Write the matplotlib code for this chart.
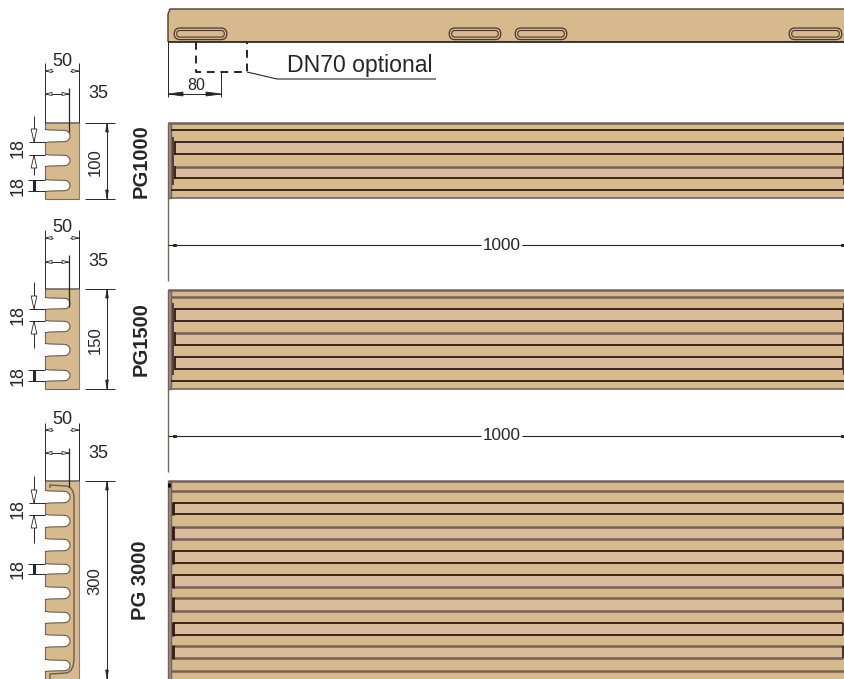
import matplotlib
matplotlib.use('Agg')
import matplotlib.pyplot as plt
from matplotlib.patches import Rectangle, PathPatch, Polygon
from matplotlib.path import Path

TAN = '#d7b98e'
TAN2 = '#dabb9b'
DARK = '#2e1a18'
TAUPE = '#75605a'
GREY = '#6e6a66'
INK = '#262626'

# top strip
strip_slots = [(174, 227), (449, 501), (515, 567), (789, 842)]

# plan views: outer edges, lines, slot rows, edge shades (d dark, t taupe)
plan1_y = (123, 198)
plan1_lines = [130, 190]
plan1_outer = 'dd'
plan1_slots = [(142, 154), (167, 178)]
plan1_shades = ['dd', 'td']
plan2_y = (290, 389)
plan2_lines = [297, 381]
plan2_outer = 'td'
plan2_slots = [(309, 321), (333, 345), (357, 369)]
plan2_shades = ['dd', 'td', 'dd']
plan3_y = (481, 680)
plan3_lines = [491, 671]
plan3_outer = 'tt'
plan3_slots = [(503, 514), (527, 539), (551, 563), (575, 587), (598, 611), (623, 635), (646, 658)]
plan3_shades = ['dd', 'tt', 'dd', 'dt', 'tt', 'dd', 'tt']

# section views
sec1_y = (123, 199)
sec1_slots = [(130, 142), (155, 166), (180, 191)]
sec2_y = (289, 389)
sec2_slots = [(298, 309), (321, 332), (344, 356), (370, 381)]
sec3_y = (481, 680)
sec3_slots = [(491, 503), (515, 527), (539, 551), (564, 574), (587, 599), (612, 623), (635, 647), (660, 671)]

SHADE = {'d': (DARK, 1.3), 't': (TAUPE, 1.8)}


def line(ax, x, y, c=INK, lw=0.8, **kw):
    ax.plot(x, y, color=c, lw=lw, solid_capstyle='butt', **kw)


def arrow(ax, x, y, dx, dy, filled=False, w=0.22):
    # narrow dimension arrow, tip at x,y
    n = (-dy * w, dx * w)
    pts = [(x, y), (x + dx + n[0], y + dy + n[1]), (x + dx - n[0], y + dy - n[1])]
    ax.add_patch(Polygon(pts, closed=True, fc=INK if filled else 'white', ec=INK, lw=0.6, zorder=5))


def plan(ax, ys, lines, outer, slots, shades, slot_x, vline=None):
    y0, y1 = ys
    ax.add_patch(Rectangle((168, y0), 680, y1 - y0, fc=TAN, ec='none'))
    line(ax, [168, 845], [y0, y0], TAUPE, 1.8)
    line(ax, [168, 845], [y1, y1], GREY, 1.2)
    ax.add_patch(Rectangle((168, y0), 3, y1 - y0, fc='#a09082', ec=TAUPE, lw=1.0))
    for yl, s in zip(lines, outer):
        c, lw = SHADE[s]
        line(ax, [171, 845], [yl, yl], c, lw)
    end_lw = 1.3 if vline else 2.0
    for (a, b), sh in zip(slots, shades):
        ax.add_patch(Rectangle((slot_x, a), 843 - slot_x, b - a, fc=TAN2, ec='none'))
        for yl, s in zip((a, b), sh):
            c, lw = SHADE[s]
            line(ax, [slot_x, 843], [yl, yl], c, lw)
        line(ax, [slot_x, slot_x], [a - 1, b + 1], DARK, end_lw)
        line(ax, [843.5, 843.5], [a, b], DARK, 1.2)
    if vline:
        line(ax, [173, 173], vline, '#4a3630', 1.3)
        line(ax, [844.5, 844.5], vline, '#4a3630', 1.3)


def section(ax, ys, slots):
    y0, y1 = ys
    ax.add_patch(Rectangle((45, y0), 34, min(y1, 679) - y0, fc=TAN, ec='none'))
    line(ax, [45, 79], [y0, y0], GREY, 1.2)
    line(ax, [79, 79], [y0, y1], '#8a8078', 0.8)
    line(ax, [45, 45], [y0, y1], TAUPE, 0.8)
    if y1 < 679:
        line(ax, [45, 79], [y1, y1], GREY, 0.8)
    for a, b in slots:
        m = (a + b) / 2
        r = (b - a) / 2
        k = 0.55 * r
        verts = [(45, a - 0.5), (50, a), (70 - r, a + 0.3),
                 (70 - r + k, a + 0.3), (70, m - k), (70, m),
                 (70, m + k), (70 - r + k, b - 0.3), (70 - r, b - 0.3),
                 (50, b), (45, b + 0.5)]
        codes = [Path.MOVETO, Path.LINETO, Path.LINETO,
                 Path.CURVE4, Path.CURVE4, Path.CURVE4,
                 Path.CURVE4, Path.CURVE4, Path.CURVE4,
                 Path.LINETO, Path.LINETO]
        ax.add_patch(PathPatch(Path(verts, codes), fc='white', ec='#5c4a42', lw=0.7, zorder=3))


def top_dims(ax, y0, y50, y35, ext_top, ext35):
    line(ax, [45, 45], [ext_top, y0], INK, 0.7)
    line(ax, [79, 79], [ext_top, y0], INK, 0.7)
    line(ax, [45, 53], [y50, y50], INK, 0.7)
    line(ax, [70, 79], [y50, y50], INK, 0.7)
    arrow(ax, 45, y50, 7, 0)
    arrow(ax, 79, y50, -7, 0)
    line(ax, [45, 69], [y35, y35], INK, 0.7)
    arrow(ax, 45, y35, 7, 0)
    arrow(ax, 69, y35, -7, 0)
    line(ax, [69, 69], ext35, INK, 0.9, zorder=6)
    ax.text(62, y50 - 10, '50', ha='center', va='center', fontsize=13, color=INK)
    ax.text(98, y35, '35', ha='center', va='center', fontsize=13, color=INK)


def left_dims(ax, s1, s2, top, bottom):
    # open-arrow 18 between two slots, filled-arrow 18 across a slot
    a, b = s1
    line(ax, [29, 45], [a, a], INK, 0.7, zorder=6)
    line(ax, [29, 45], [b, b], INK, 0.7, zorder=6)
    line(ax, [34, 34], [top, a], INK, 0.7)
    line(ax, [34, 34], [b, bottom], INK, 0.7)
    arrow(ax, 34, a, 0, -13)
    arrow(ax, 34, b, 0, 13)
    ax.text(18.5, (a + b) / 2, '18', ha='center', va='center', rotation=90, fontsize=13, color=INK)
    c, d = s2
    line(ax, [28, 45], [c, c], INK, 0.7, zorder=6)
    line(ax, [28, 45], [d, d], INK, 0.7, zorder=6)
    line(ax, [34, 34], [c, d], INK, 2.2)
    ax.text(18.5, (c + d) / 2, '18', ha='center', va='center', rotation=90, fontsize=13, color=INK)


def height_dim(ax, y0, y1, label):
    line(ax, [85, 115], [y0, y0], INK, 0.7)
    if y1 < 679:
        line(ax, [85, 115], [y1, y1], INK, 0.7)
    line(ax, [107, 107], [y0, y1], INK, 0.7)
    arrow(ax, 107, y0, 0, 9, True, 0.14)
    arrow(ax, 107, min(y1, 679), 0, -9, True, 0.14)
    ax.text(95, (y0 + min(y1, 679)) / 2 + 1, label, ha='center', va='center', rotation=90, fontsize=12, color=INK)


def span_dim(ax, y):
    line(ax, [168, 481], [y, y], INK, 0.8)
    line(ax, [522, 845], [y, y], INK, 0.8)
    ax.add_patch(Rectangle((173, y - 1), 3, 2, fc='white', ec=INK, lw=0.7))
    ax.add_patch(Rectangle((841, y - 1.2), 3.5, 2.4, fc='#555555', ec=INK, lw=0.7))
    ax.text(501.5, y, '1000', ha='center', va='center', fontsize=12.3, color=INK)


def main():
    plt.rcParams['font.family'] = ['Liberation Sans', 'DejaVu Sans']
    fig = plt.figure(figsize=(8.45, 6.79), dpi=100)
    ax = fig.add_axes([0, 0, 1, 1])
    ax.set_xlim(0, 845)
    ax.set_ylim(679, 0)
    ax.axis('off')

    # top strip with slots
    ax.add_patch(Polygon([(168, 42), (168, 14), (170, 9), (848, 9), (848, 42)], closed=True, fc=TAN, ec='none'))
    line(ax, [168, 168, 170, 845], [42, 14, 9, 9], '#4a3d36', 1.0)
    line(ax, [168, 845], [42, 42], '#1c1a18', 1.2)
    for a, b in strip_slots:
        for pad, lw in ((0, 0.9), (2.5, 0.8)):
            r = 5.8 - pad
            x0, x1 = a + 6, b - 6
            t, u = 28 + pad, 39.6 - pad
            m = (t + u) / 2
            verts = [(x0, t), (x1, t), (x1 + r, t), (x1 + r, m), (x1 + r, u), (x1, u), (x0, u), (x0 - r, u), (x0 - r, m), (x0 - r, t), (x0, t)]
            codes = [Path.MOVETO, Path.LINETO, Path.CURVE3, Path.CURVE3, Path.CURVE3, Path.CURVE3, Path.LINETO, Path.CURVE3, Path.CURVE3, Path.CURVE3, Path.CURVE3]
            ax.add_patch(PathPatch(Path(verts, codes), fc='none', ec='#4a3630', lw=lw))

    # DN70 dashed outlet and leader
    ax.plot([196, 196, 247, 247], [42, 72, 72, 42], color=INK, lw=1.4, dashes=(4, 3))
    line(ax, [247, 277, 436], [72, 79, 79], INK, 0.8)
    ax.text(287, 65.5, 'DN70 optional', ha='left', va='center', fontsize=16.6, color=INK)

    # 80 dimension
    line(ax, [168, 168], [42, 97], INK, 0.7)
    line(ax, [221, 221], [72, 97], INK, 0.7)
    line(ax, [168, 221], [94, 94], INK, 0.7)
    arrow(ax, 168, 94, 15, 0, True, 0.13)
    arrow(ax, 221, 94, -15, 0, True, 0.13)
    ax.text(196, 85, '80', ha='center', va='center', fontsize=11.5, color=INK)

    # plan views
    plan(ax, plan1_y, plan1_lines, plan1_outer, plan1_slots, plan1_shades, 175, (137, 185))
    plan(ax, plan2_y, plan2_lines, plan2_outer, plan2_slots, plan2_shades, 175, (303, 375))
    plan(ax, plan3_y, plan3_lines, plan3_outer, plan3_slots, plan3_shades, 173.5)
    line(ax, [168, 168], [198, 281], GREY, 1.0)
    line(ax, [168, 168], [389, 472], GREY, 1.0)
    line(ax, [169, 169], [483, 487], 'black', 2.0)
    span_dim(ax, 245)
    span_dim(ax, 436)

    # section views
    section(ax, sec1_y, sec1_slots)
    section(ax, sec2_y, sec2_slots)
    section(ax, sec3_y, sec3_slots)
    line(ax, [50, 50, 66], [488, 485, 486], '#6b5a50', 1.0, zorder=4)
    tube = Path([(66, 486), (74, 487), (74, 498), (74, 658), (74, 672), (66, 673), (50, 674), (50, 679)],
                [Path.MOVETO, Path.CURVE3, Path.CURVE3, Path.LINETO, Path.CURVE3, Path.CURVE3, Path.LINETO, Path.LINETO])
    ax.add_patch(PathPatch(tube, fc='none', ec='#6b5a50', lw=1.0, zorder=4))

    top_dims(ax, 123, 71, 94, 63, [88, 132])
    top_dims(ax, 289, 238, 262, 230, [255, 307])
    top_dims(ax, 481, 430, 453, 423, [448, 487])

    left_dims(ax, (142, 155), (180, 191), 116, 175)
    left_dims(ax, (309, 321), (370, 381), 282, 348)
    left_dims(ax, (503, 515), (564, 574), 476, 543)

    height_dim(ax, 123, 199, '100')
    height_dim(ax, 289, 389, '150')
    height_dim(ax, 481, 680, '300')

    # product labels
    for y, s in ((161.5, 'PG1000'), (339, 'PG1500'), (580, 'PG 3000')):
        ax.text(141, y, s, ha='center', va='center', rotation=90, fontsize=14.5,
                color=INK, fontweight='bold', fontfamily=['Liberation Sans Narrow', 'Liberation Sans'])

    fig.savefig('out.png', dpi=100)


if __name__ == "__main__":
    main()
